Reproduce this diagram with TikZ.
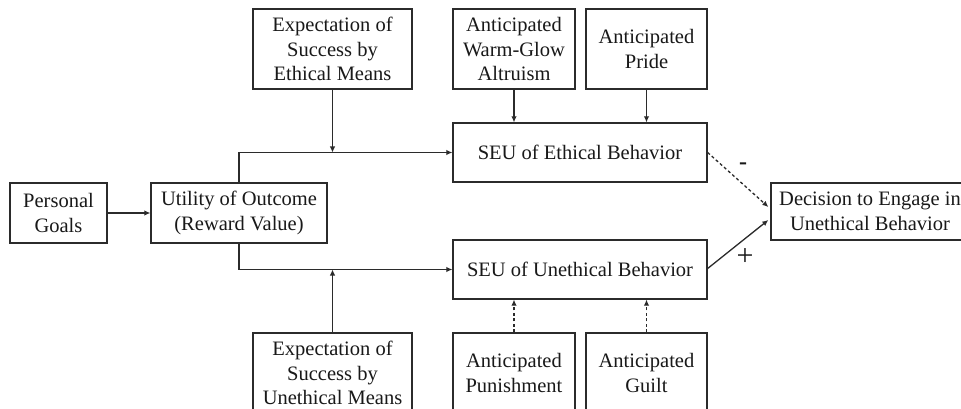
\documentclass[tikz,border=0pt]{standalone}
\usepackage{fontspec}
\setmainfont{Liberation Serif}
\usetikzlibrary{arrows.meta}
\definecolor{ln}{HTML}{2B2B2B}
\tikzset{
  box/.style={draw=ln, line width=1.3pt, align=center, inner sep=0pt,
    font=\fontsize{20.5}{24.5}\selectfont, text=black!90},
  conn/.style={draw=ln, line width=1.3pt, -{Latex[length=6pt,width=5.5pt]}},
  dconn/.style={conn, dash pattern=on 3pt off 2.5pt},
  sign/.style={font=\fontsize{24}{26}\selectfont, inner sep=0pt, text=black!90}
}
\begin{document}
\begin{tikzpicture}[x=1pt,y=-1pt]
\fill[white] (0,0) rectangle (961,409);
\clip (0,0) rectangle (961,409);
\node[box, minimum width=97pt, minimum height=60pt] (pg) at (58.5,213) {Personal\\Goals};
\node[box, minimum width=176pt, minimum height=60pt] (util) at (239,213) {Utility of Outcome\\(Reward Value)};
\node[box, minimum width=159pt, minimum height=80pt] (ee) at (332.5,49) {Expectation of\\Success by\\Ethical Means};
\node[box, minimum width=122pt, minimum height=80pt] (wg) at (514,49) {Anticipated\\Warm-Glow\\Altruism};
\node[box, minimum width=121pt, minimum height=80pt] (pride) at (646.5,49) {Anticipated\\Pride};
\node[box, minimum width=254pt, minimum height=59pt] (seue) at (580,152.5) {SEU of Ethical Behavior};
\node[box, minimum width=254pt, minimum height=59pt] (seuu) at (580,269.5) {SEU of Unethical Behavior};
\node[box, minimum width=198pt, minimum height=57pt] (dec) at (870,211.5) {Decision to Engage in\\Unethical Behavior};
\node[box, minimum width=159pt, minimum height=80pt] (eu) at (332.5,373) {Expectation of\\Success by\\Unethical Means};
\node[box, minimum width=122pt, minimum height=80pt] (pun) at (514,373) {Anticipated\\Punishment};
\node[box, minimum width=121pt, minimum height=80pt] (guilt) at (646.5,373) {Anticipated\\Guilt};

\coordinate (j1) at (ee.south |- seue.west);
\coordinate (j2) at (eu.north |- seuu.west);

\draw[conn] (pg.east) -- (util.west);
\draw[conn] (util.north) |- (seue.west);
\draw[conn] (util.south) |- (seuu.west);
\draw[conn] (ee.south) -- (j1);
\draw[conn] (eu.north) -- (j2);
\draw[conn] (wg.south) -- (wg.south |- seue.north);
\draw[conn] (pride.south) -- (pride.south |- seue.north);
\draw[dconn] (pun.north) -- (pun.north |- seuu.south);
\draw[dconn] (guilt.north) -- (guilt.north |- seuu.south);
\draw[dconn] (seue.east) -- ([yshift=4.5pt,xshift=-2pt]dec.west);
\draw[conn] ([yshift=1pt]seuu.east) -- ([yshift=-8.5pt,xshift=-2pt]dec.west);
\node[sign] (m) at (743,166) {\textbf{-}};
\node[sign, font=\fontsize{30}{32}\selectfont] (p) at (745,257) {+};
\end{tikzpicture}
\end{document}
